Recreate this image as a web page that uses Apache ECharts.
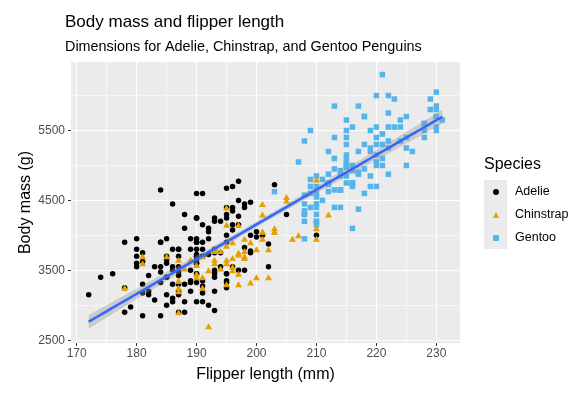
<!DOCTYPE html>
<html>
<head>
<meta charset="utf-8">
<script src="https://cdn.jsdelivr.net/npm/echarts@6/dist/echarts.min.js"></script>
<style>
html,body{margin:0;padding:0;background:#fff;}
#chart{width:580px;height:395px;}
</style>
</head>
<body>
<div id="chart"></div>
<script>
// ---------- DATA ----------
const species = ['Adelie', 'Chinstrap', 'Gentoo'];

const adelieFlipper = [181,186,195,193,190,181,195,193,190,186,180,182,191,198,185,195,197,184,194,
174,180,189,185,180,187,183,187,172,180,
178,178,188,184,195,196,190,180,181,184,182,195,186,196,185,190,182,179,190,191,
186,188,190,200,187,191,186,193,181,194,185,195,185,192,184,192,195,188,
190,198,190,190,196,197,190,195,191,184,187,195,189,196,187,193,
191,194,190,189,189,190,202,205,185,186,187,208,190,196,178,192,
192,203,183,190,193,184,199,190,181,197,198,191,193,197,191,196,
188,199,189,189,187,198,176,202,186,199,191,195,191,210,190,197,
193,199,187,190,191,200,185,193,193,187,188,190,192,185,190,184,195,193,187,201];
const adelieMass = [3750,3800,3250,3450,3650,3625,4675,3475,4250,3300,3700,3200,3800,4400,3700,3450,4500,3325,4200,
3400,3600,3800,3950,3800,3800,3550,3200,3150,3950,
3250,3900,3300,3900,3325,4150,3950,3550,3300,4650,3150,3900,3100,4400,3000,4600,3425,2975,3450,4150,
3500,4300,3450,4050,2900,3700,3550,3800,2850,3750,3150,4400,3600,4050,2850,3950,3350,4100,
3050,4450,3600,3900,3550,4150,3700,4250,3700,3900,3550,4000,3200,4700,3800,4200,
3350,3550,3800,3500,3950,3600,3550,4300,3400,4450,3300,4300,3700,4350,2900,4100,
3725,4725,3075,4250,2925,3550,3750,3900,3175,4775,3825,4600,3200,4275,3900,4075,
2900,3775,3350,3325,3150,3500,3450,3875,3050,4000,3275,4300,3050,4000,3325,3500,
3500,4475,3425,3900,3175,3975,3400,4250,3400,3475,3050,3725,3000,3650,4250,3475,3450,3750,3700,4000];

const gentooFlipper = [211,230,210,218,215,210,211,219,209,215,214,216,214,213,210,217,210,221,209,222,218,215,213,215,215,215,216,215,210,220,222,209,207,230,
220,220,213,219,208,208,208,225,210,216,222,217,210,225,213,215,210,220,210,225,217,220,208,220,208,224,208,221,214,231,219,230,214,229,220,223,216,221,221,217,216,230,209,220,215,223,
212,221,212,224,212,228,218,218,212,230,218,228,212,224,214,226,216,222,203,225,219,228,215,228,216,215,210,219,208,209,216,229,213,230,217,230,217,222,214,215,222,212,213];
const gentooMass = [4500,5700,4450,5700,5400,4550,4800,5200,4400,5150,4650,5550,4650,5850,4200,5850,4150,6300,4800,5350,5700,5000,4400,5050,5000,5100,4100,5650,4600,5550,5250,4700,5050,6050,
5150,5400,4950,5250,4350,5350,3950,5700,4300,4750,5550,4900,4200,5400,5100,5300,4850,5300,4400,5000,4900,5050,4300,5000,4450,5550,4200,5300,4400,5650,4700,5700,4650,5800,4700,5550,4750,5000,5100,5200,4700,5800,4600,6000,4750,5950,
4625,5450,4725,5350,4750,5600,4600,5300,4875,5550,4950,5400,4750,5650,4850,5200,4925,4875,4625,5250,4850,5600,4975,5500,4725,5500,4700,5500,4575,5500,5000,5950,4650,5500,4375,5850,4875,6000,4925,4850,5750,5200,5400];

const chinstrapFlipper = [192,196,193,188,197,198,178,197,195,198,193,194,185,201,190,201,197,181,190,195,181,191,187,193,195,197,
200,200,191,205,187,201,187,203,195,199,195,210,192,205,210,187,196,196,196,201,190,212,187,198,199,201,193,203,187,197,191,203,202,194,206,189,195,207,202,193,210,198];
const chinstrapMass = [3500,3900,3650,3525,3725,3950,3250,3750,4150,3700,3800,3775,3700,4050,3575,4050,3300,3700,3450,4400,3600,3400,2900,3800,3300,4150,
3400,3800,3700,4550,3200,4300,3350,4100,3600,3900,3850,4800,2700,4500,3950,3650,3550,3500,3675,4450,3400,4300,3250,3675,3325,3950,3600,4050,3350,3450,3250,4050,3800,3525,3950,3650,3650,4000,3400,3775,4100,3775];

const xTicks = [170, 180, 190, 200, 210, 220, 230];
const xMinorGrid = [175, 185, 195, 205, 215, 225];
const yTicks = [2500, 3500, 4500, 5500];
const yMinorGrid = [3000, 4000, 5000, 6000];

// ---------- linear fit (lm) with 95% confidence band ----------
const allX = adelieFlipper.concat(gentooFlipper, chinstrapFlipper);
const allY = adelieMass.concat(gentooMass, chinstrapMass);
const n = allX.length;
const mx = allX.reduce((a, b) => a + b, 0) / n;
const my = allY.reduce((a, b) => a + b, 0) / n;
let sxx = 0, sxy = 0;
for (let i = 0; i < n; i++) { sxx += (allX[i] - mx) ** 2; sxy += (allX[i] - mx) * (allY[i] - my); }
const slope = sxy / sxx;
const icpt = my - slope * mx;
let sse = 0;
for (let i = 0; i < n; i++) { sse += (allY[i] - (icpt + slope * allX[i])) ** 2; }
const sigma = Math.sqrt(sse / (n - 2));
const tCrit = 1.967;
const xLo = Math.min(...allX), xHi = Math.max(...allX);
const fitLine = [], ribbon = [];
for (let k = 0; k < 80; k++) {
  const x = xLo + (xHi - xLo) * k / 79;
  const yh = icpt + slope * x;
  const se = sigma * Math.sqrt(1 / n + (x - mx) ** 2 / sxx);
  fitLine.push([x, yh]);
  ribbon.push([x, yh - tCrit * se, yh + tCrit * se]);
}

const zip = (a, b) => a.map((v, i) => [v, b[i]]);
const FONT = 'Liberation Sans, Arial, Helvetica, sans-serif';

const gridLines = [];
xTicks.forEach(v => gridLines.push({ xAxis: v, lineStyle: { width: 1.1 } }));
xMinorGrid.forEach(v => gridLines.push({ xAxis: v, lineStyle: { width: 0.55 } }));
yTicks.forEach(v => gridLines.push({ yAxis: v, lineStyle: { width: 1.1 } }));
yMinorGrid.forEach(v => gridLines.push({ yAxis: v, lineStyle: { width: 0.55 } }));

const chart = echarts.init(document.getElementById('chart'), null, { renderer: 'canvas' });
chart.setOption({
  animation: false,
  backgroundColor: '#ffffff',
  textStyle: { fontFamily: FONT },
  title: [
    { text: 'Body mass and flipper length', left: 65, top: 14, padding: 0,
      textStyle: { fontSize: 17, fontWeight: 'normal', color: '#000', fontFamily: FONT } },
    { text: 'Dimensions for Adelie, Chinstrap, and Gentoo Penguins', left: 65, top: 40, padding: 0,
      textStyle: { fontSize: 14.4, fontWeight: 'normal', color: '#000', fontFamily: FONT } },
    { text: 'Species', left: 484, top: 157, padding: 0,
      textStyle: { fontSize: 16, fontWeight: 'normal', color: '#000', fontFamily: FONT } }
  ],
  graphic: [
    { type: 'rect', left: 484, top: 180, z: -1, shape: { width: 23, height: 69 }, style: { fill: '#EBEBEB' } }
  ],
  legend: {
    data: species,
    orient: 'vertical',
    left: 493,
    top: 184,
    padding: 0,
    itemWidth: 6,
    itemHeight: 6,
    itemGap: 7,
    textStyle: { fontSize: 12.5, color: '#000', fontFamily: FONT, lineHeight: 16, padding: [0, 0, 0, 11] }
  },
  grid: { left: 71, right: 120, top: 62, bottom: 52, show: true, backgroundColor: '#EBEBEB', borderWidth: 0 },
  xAxis: {
    type: 'value', min: 169.05, max: 233.95,
    name: 'Flipper length (mm)', nameLocation: 'middle', nameGap: 24, nameMoveOverlap: false,
    nameTextStyle: { fontSize: 16, color: '#000', fontFamily: FONT },
    axisLine: { show: false },
    axisTick: { show: true, length: 3, customValues: xTicks, lineStyle: { color: '#333', width: 1 } },
    axisLabel: { customValues: xTicks, color: '#4D4D4D', fontSize: 12, margin: 5, fontFamily: FONT,
      formatter: v => String(v) },
    splitLine: { show: false }
  },
  yAxis: {
    type: 'value', min: 2460, max: 6480,
    name: 'Body mass (g)', nameLocation: 'middle', nameGap: 37, nameRotate: 90, nameMoveOverlap: false,
    nameTextStyle: { fontSize: 16, color: '#000', fontFamily: FONT },
    axisLine: { show: false },
    axisTick: { show: true, length: 3, customValues: yTicks, lineStyle: { color: '#333', width: 1 } },
    axisLabel: { customValues: yTicks, color: '#4D4D4D', fontSize: 12, margin: 6, fontFamily: FONT,
      formatter: v => String(v) },
    splitLine: { show: false }
  },
  series: [
    { type: 'line', name: 'grid', data: [], silent: true, z: 1,
      markLine: { silent: true, z: 1, symbol: ['none', 'none'], label: { show: false }, animation: false,
        lineStyle: { color: '#ffffff', type: 'solid', width: 1 }, emphasis: { disabled: true },
        data: gridLines } },
    { type: 'scatter', name: 'Adelie', data: zip(adelieFlipper, adelieMass), symbol: 'circle', symbolSize: 5.5,
      itemStyle: { color: '#000000', opacity: 1 }, z: 3 },
    { type: 'scatter', name: 'Gentoo', data: zip(gentooFlipper, gentooMass), symbol: 'rect', symbolSize: 5.5,
      itemStyle: { color: '#56B4E9', opacity: 1 }, z: 3 },
    { type: 'scatter', name: 'Chinstrap', data: zip(chinstrapFlipper, chinstrapMass), symbol: 'triangle', symbolSize: [7, 6],
      itemStyle: { color: '#E69F00', opacity: 1 }, z: 3 },
    { type: 'custom', name: 'ribbon', silent: true, z: 4,
      data: ribbon,
      encode: { x: 0, y: [1, 2] },
      renderItem: function (params, api) {
        if (params.dataIndex !== 0) return null;
        const pts = [];
        ribbon.forEach(r => pts.push(api.coord([r[0], r[2]])));
        for (let i = ribbon.length - 1; i >= 0; i--) pts.push(api.coord([ribbon[i][0], ribbon[i][1]]));
        return { type: 'polygon', shape: { points: pts }, style: { fill: 'rgba(153,153,153,0.4)' } };
      } },
    { type: 'line', name: 'fit', data: fitLine, showSymbol: false, silent: true, z: 5,
      lineStyle: { color: '#3366FF', width: 2.5 } }
  ]
});
</script>
</body>
</html>
